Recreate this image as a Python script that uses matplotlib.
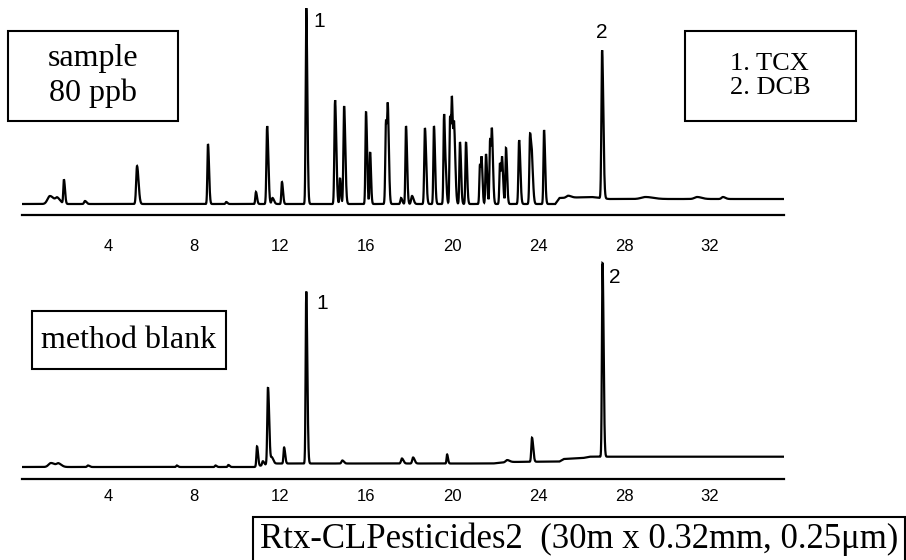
import numpy as np
import matplotlib
matplotlib.use("Agg")
import matplotlib.pyplot as plt
from matplotlib.patches import Rectangle

# retention times (min), heights and widths of the peaks
top_rt = [1.30, 1.65, 1.95, 2.93, 5.35, 8.65, 9.50, 10.88, 11.40, 11.65, 12.09, 13.22,
          14.56, 14.79, 14.98, 16.00, 16.19, 16.93, 17.02, 17.63, 17.86, 18.14, 18.74,
          19.16, 19.63, 19.72, 19.91, 20.00, 20.10, 20.37, 20.65, 21.30, 21.38, 21.58,
          21.77, 21.86, 22.23, 22.33, 22.51, 23.12, 23.63, 23.72, 24.28, 25.40, 26.98,
          29.00, 31.40, 32.60]
top_h = [8, 5, 24, 3, 38, 60, 2, 12, 78, 6, 22, 196,
         104, 26, 98, 92, 52, 84, 76, 6, 78, 8, 76,
         78, 90, 17, 87, 90, 70, 62, 62, 40, 36, 50,
         64, 63, 41, 42, 56, 64, 70, 32, 74, 2, 148,
         2, 2, 2]
top_w = [0.14, 0.10, 0.035, 0.05, 0.05, 0.035, 0.04, 0.035, 0.04, 0.05, 0.035, 0.035,
         0.04, 0.03, 0.04, 0.035, 0.03, 0.04, 0.035, 0.04, 0.035, 0.05, 0.04,
         0.035, 0.035, 0.03, 0.035, 0.035, 0.04, 0.035, 0.035, 0.035, 0.03, 0.035,
         0.035, 0.035, 0.035, 0.035, 0.035, 0.04, 0.04, 0.04, 0.035, 0.10, 0.04,
         0.25, 0.15, 0.08]
top_base_t = [0, 24.8, 25.0, 26.5, 27.3, 35.5]
top_base = [0, 0, 6, 7, 5, 5]

bot_rt = [1.35, 1.70, 3.07, 7.20, 9.00, 9.60, 10.93, 11.20, 11.44, 11.62, 12.19, 13.22,
          14.90, 17.67, 18.19, 19.77, 22.56, 23.72, 27.00]
bot_h = [4, 3, 1.5, 1.5, 1.5, 2, 20, 4, 77, 6, 16, 172,
         3, 5, 6, 9, 2, 24, 194]
bot_w = [0.14, 0.10, 0.05, 0.04, 0.04, 0.04, 0.035, 0.04, 0.04, 0.05, 0.035, 0.035,
         0.05, 0.05, 0.05, 0.03, 0.08, 0.04, 0.035]
bot_base_t = [0, 10.8, 11.6, 21.9, 22.6, 25.0, 25.2, 26.1, 26.4, 35.5]
bot_base = [0, 0, 3.5, 3.5, 5, 5.5, 8, 9, 10.3, 10.3]

labeled = {"1": 13.22, "2": 27.0}
ticks = [4, 8, 12, 16, 20, 24, 28, 32]
tmax = 35.44

t = np.linspace(0, tmax, 6000)


def trace(rt, h, w, bt, b):
    y = np.interp(t, bt, b)
    for r, hh, ww in zip(rt, h, w):
        s = np.where(t < r, ww * 0.8, ww * 1.4)  # a bit of tailing
        y = y + hh * np.exp(-0.5 * ((t - r) / s) ** 2)
    return y


y_top = trace(top_rt, top_h, top_w, top_base_t, top_base)
y_bot = trace(bot_rt, bot_h, bot_w, bot_base_t, bot_base)

fig = plt.figure(figsize=(9.06, 5.6), dpi=100)
W, H = 906.0, 560.0

tickfont = dict(family=["Liberation Sans Narrow", "Liberation Sans"], size=12)


def panel(rect, y, ylim, pad, lab_offsets):
    ax = fig.add_axes(rect)
    ax.plot(t, y, color="black", lw=1.6, solid_joinstyle="miter")
    ax.set_xlim(0, tmax)
    ax.set_ylim(*ylim)
    for s in ["top", "left", "right"]:
        ax.spines[s].set_visible(False)
    ax.spines["bottom"].set_linewidth(1.6)
    ax.set_yticks([])
    ax.set_xticks(ticks)
    ax.set_xticklabels([str(v) for v in ticks], fontdict=tickfont)
    ax.tick_params(axis="x", length=0, pad=pad)
    ax.patch.set_visible(False)
    for lab, rt in labeled.items():
        sel = np.abs(t - rt) < 0.15
        ipk = np.where(sel)[0][np.argmax(y[sel])]
        dx, dy, ha, va = lab_offsets[lab]
        ax.annotate(lab, (t[ipk], y[ipk]), xytext=(dx, dy), textcoords="offset points",
                    ha=ha, va=va, fontsize=15, family="Liberation Sans")
    return ax


panel([22 / W, (H - 215) / H, 762 / W, 215 / H], y_top, (-11, 204), 17,
      {"1": (5, -3, "left", "top"), "2": (0, 6, "center", "bottom")})
panel([22 / W, (H - 479) / H, 762 / W, 229 / H], y_bot, (-12, 217), 7.5,
      {"1": (7, -1.5, "left", "top"), "2": (5, -3.5, "left", "top")})


def box(x0, y0, x1, y1, txt, size, ls=1.0, ha="center"):
    r = Rectangle((x0 / W, 1 - y1 / H), (x1 - x0) / W, (y1 - y0) / H,
                  transform=fig.transFigure, fill=False, lw=1.5, ec="black")
    fig.add_artist(r)
    fig.text((x0 + x1) / 2 / W, 1 - (y0 + y1) / 2 / H, txt, ha="center", va="center",
             multialignment=ha, fontsize=size, family="Liberation Serif", linespacing=ls)


box(8, 31, 178, 121, "sample\n80 ppb", 23, 1.22)
box(685, 31, 856, 121, "1. TCX\n2. DCB", 19, 1.12, ha="left")
box(32, 311, 226, 369, "method blank", 23)
box(253, 517, 905, 562, "Rtx-CLPesticides2  (30m x 0.32mm, 0.25\u03bcm)", 25)

fig.savefig("out.png", dpi=100)
